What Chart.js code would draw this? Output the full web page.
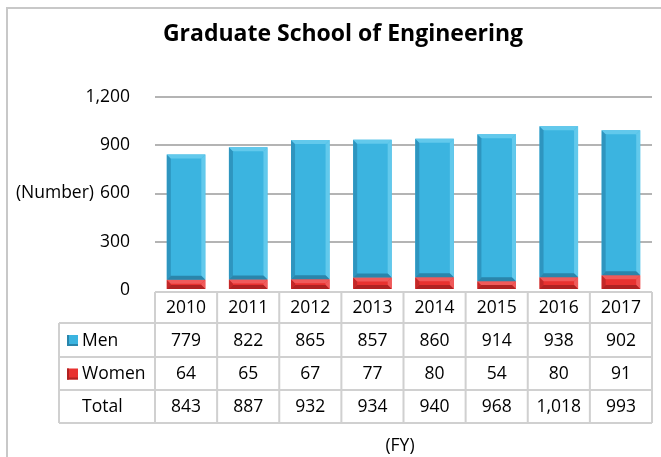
<!DOCTYPE html>
<html>
<head>
<meta charset="utf-8">
<script src="https://cdn.jsdelivr.net/npm/chart.js@4.4.1/dist/chart.umd.min.js"></script>
<style>
  html, body { margin: 0; padding: 0; background: #fff; }
  #wrap { width: 661px; height: 457px; position: relative; }
</style>
</head>
<body>
<div id="wrap"><canvas id="chart" width="661" height="457"></canvas></div>
<script>
// Data
const years = ['2010', '2011', '2012', '2013', '2014', '2015', '2016', '2017'];
const men = [779, 822, 865, 857, 860, 914, 938, 902];
const women = [64, 65, 67, 77, 80, 54, 80, 91];
const totals = ['843', '887', '932', '934', '940', '968', '1,018', '993'];
const yTicks = [0, 300, 600, 900, 1200];

const FONT = '"Open Sans", Lato, sans-serif';
const FS = 17.5;
const lineColor = '#d0d0d0';

const colors = {
    Men: { fill: '#3bb4e0', dark: '#2e95bf', light: '#62c9ec', bottom: '#2a85ab' },
    Women: { fill: '#e8312f', dark: '#c42828', light: '#f05a5a', bottom: '#b02222' }
};

function fmt(n) {
    return n.toLocaleString('en-US');
}

// Frame, title and axis captions
const framePlugin = {
    id: 'frame',
    beforeDraw(chart) {
        const ctx = chart.ctx;
        ctx.save();
        ctx.strokeStyle = '#c8c8c8';
        ctx.lineWidth = 2;
        ctx.beginPath();
        ctx.moveTo(7, 457);
        ctx.lineTo(7, 8);
        ctx.lineTo(661, 8);
        ctx.stroke();
        ctx.restore();
    },
    afterDraw(chart) {
        const ctx = chart.ctx;
        const y = chart.scales.y;
        ctx.save();
        ctx.fillStyle = '#000';
        ctx.textAlign = 'center';
        ctx.textBaseline = 'middle';
        ctx.font = 'bold 23px ' + FONT;
        ctx.fillText('Graduate School of Engineering', 343, 34);
        ctx.font = FS + 'px ' + FONT;
        ctx.textAlign = 'right';
        ctx.fillText('(Number)', 94, y.getPixelForValue(600));
        ctx.textAlign = 'center';
        ctx.fillText('(FY)', 400, 446);
        ctx.restore();
    }
};

// Bevel shading on each bar segment
const bevelPlugin = {
    id: 'bevel',
    afterDatasetsDraw(chart) {
        const ctx = chart.ctx;
        chart.data.datasets.forEach((ds, di) => {
            const s = colors[ds.label];
            chart.getDatasetMeta(di).data.forEach(bar => {
                const l = bar.x - bar.width / 2;
                const r = bar.x + bar.width / 2;
                const t = bar.y;
                const b = bar.base;
                const e = 4;
                ctx.save();
                ctx.fillStyle = s.dark;
                ctx.beginPath();
                ctx.moveTo(l, t); ctx.lineTo(l + e, t + e); ctx.lineTo(l + e, b - e); ctx.lineTo(l, b);
                ctx.fill();
                ctx.fillStyle = s.light;
                ctx.beginPath();
                ctx.moveTo(r, t); ctx.lineTo(r - e, t + e); ctx.lineTo(r - e, b - e); ctx.lineTo(r, b);
                ctx.fill();
                ctx.beginPath();
                ctx.moveTo(l, t); ctx.lineTo(r, t); ctx.lineTo(r - e, t + e); ctx.lineTo(l + e, t + e);
                ctx.fill();
                ctx.fillStyle = s.bottom;
                ctx.beginPath();
                ctx.moveTo(l, b); ctx.lineTo(r, b); ctx.lineTo(r - e, b - e); ctx.lineTo(l + e, b - e);
                ctx.fill();
                ctx.restore();
            });
        });
    }
};

// Data table under the plot
const tablePlugin = {
    id: 'dataTable',
    afterDraw(chart) {
        const ctx = chart.ctx;
        const x = chart.scales.x;
        const area = chart.chartArea;
        const step = (area.right - area.left) / years.length;
        const rows = [292, 323, 357, 390, 423];
        const labelLeft = 59;
        ctx.save();
        ctx.strokeStyle = lineColor;
        ctx.lineWidth = 2;
        ctx.beginPath();
        ctx.moveTo(area.left, rows[0]); ctx.lineTo(area.right, rows[0]);
        for (let i = 1; i < rows.length; i++) {
            ctx.moveTo(labelLeft, rows[i]); ctx.lineTo(area.right, rows[i]);
        }
        ctx.moveTo(labelLeft, rows[1]); ctx.lineTo(labelLeft, rows[4]);
        for (let i = 0; i <= years.length; i++) {
            const px = area.left + i * step;
            ctx.moveTo(px, rows[0]); ctx.lineTo(px, rows[4]);
        }
        ctx.stroke();

        ctx.fillStyle = '#000';
        ctx.font = FS + 'px ' + FONT;
        ctx.textBaseline = 'middle';
        ctx.textAlign = 'center';
        const rowText = [years, men.map(fmt), women.map(fmt), totals];
        rowText.forEach((vals, r) => {
            const cy = (rows[r] + rows[r + 1]) / 2 + 1;
            vals.forEach((v, i) => {
                ctx.fillText(v, x.getPixelForValue(i), cy);
            });
        });

        // row headers with legend keys
        ctx.textAlign = 'left';
        const names = ['Men', 'Women', 'Total'];
        names.forEach((n, i) => {
            const cy = (rows[i + 1] + rows[i + 2]) / 2 + 1;
            const c = colors[n];
            if (c) {
                ctx.fillStyle = c.fill;
                ctx.fillRect(67, cy - 6, 11, 11);
                ctx.fillStyle = c.bottom;
                ctx.fillRect(67, cy - 6, 2, 11);
                ctx.fillRect(67, cy + 3, 11, 2);
            }
            ctx.fillStyle = '#000';
            ctx.fillText(n, 82, cy);
        });
        ctx.restore();
    }
};

new Chart(document.getElementById('chart'), {
    type: 'bar',
    data: {
        labels: years,
        datasets: [
            {
                label: 'Women',
                data: women,
                backgroundColor: colors.Women.fill,
                barPercentage: 0.62,
                categoryPercentage: 1
            },
            {
                label: 'Men',
                data: men,
                backgroundColor: colors.Men.fill,
                barPercentage: 0.62,
                categoryPercentage: 1
            }
        ]
    },
    options: {
        responsive: false,
        animation: false,
        layout: { padding: { left: 0, right: 9, top: 97, bottom: 167 } },
        plugins: {
            legend: { display: false },
            tooltip: { enabled: false }
        },
        scales: {
            x: {
                stacked: true,
                display: false
            },
            y: {
                stacked: true,
                min: 0,
                max: 1200,
                afterFit(scale) { scale.width = 155; },
                afterBuildTicks(scale) { scale.ticks = yTicks.map(v => ({ value: v })); },
                border: { display: false },
                grid: {
                    color: ctx => ctx.tick && ctx.tick.value === 0 ? 'rgba(0,0,0,0)' : '#b4b4b4',
                    lineWidth: 2,
                    drawTicks: false
                },
                ticks: {
                    padding: 25,
                    color: '#000',
                    font: { family: FONT, size: FS },
                    callback: v => fmt(v)
                }
            }
        }
    },
    plugins: [framePlugin, bevelPlugin, tablePlugin]
});
</script>
</body>
</html>
